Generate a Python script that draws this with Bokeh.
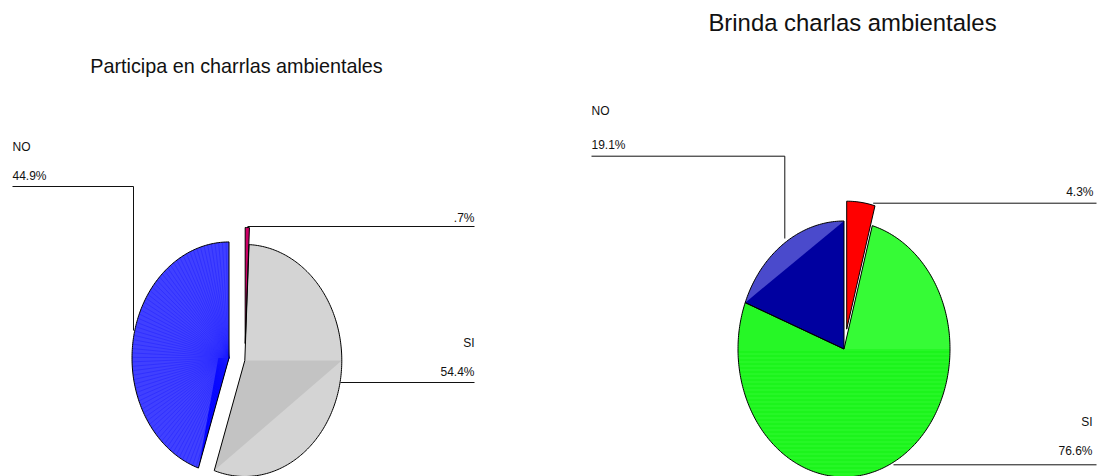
import numpy as np
from bokeh.plotting import figure
from bokeh.models import Range1d, ColumnDataSource
from bokeh.core.properties import value
from bokeh.embed import file_html
from bokeh.resources import INLINE

# ---------------- data ----------------
left_title = "Participa en charrlas ambientales"
left_categories = ["", "SI", "NO"]
left_values = [0.7, 54.4, 44.9]
left_pct_labels = [".7%", "54.4%", "44.9%"]

right_title = "Brinda charlas ambientales"
right_categories = ["", "SI", "NO"]
right_values = [4.3, 76.6, 19.1]
right_pct_labels = ["4.3%", "76.6%", "19.1%"]

# ---------------- style / layout ----------------
left_colors = ["#cc0066", "#d4d4d4", "#4040ff"]
right_colors = ["#ff0000", "#26f726", "#4a4acc"]
left_geom = dict(cx=244.3, cy=360.0, rx=97.0, ry=116.0, explode=[17, 0, 16])
right_geom = dict(cx=843.5, cy=348.5, rx=106.0, ry=128.0, explode=[20, 0, 0])

TITLE_FONT = "'Liberation Sans', Arial, sans-serif"
LABEL_FONT = "'Liberation Sans', Arial, sans-serif"

W, H = 1099, 476
p = figure(width=W, height=H, output_backend="svg", toolbar_location=None,
           x_range=Range1d(0, W), y_range=Range1d(H, 0),
           min_border=0, tools="")
p.axis.visible = False
p.grid.visible = False
p.outline_line_color = None
p.background_fill_color = "white"
p.border_fill_color = "white"


def pt(g, ox, oy, ang):
    t = np.radians(ang)
    return ox + g["rx"] * np.sin(t), oy - g["ry"] * np.cos(t)


def build_slices(values, g):
    cum = np.concatenate([[0.0], np.cumsum(values)]) / 100.0 * 360.0
    out = []
    for i in range(len(values)):
        a0, a1 = cum[i], cum[i + 1]
        mid = np.radians((a0 + a1) / 2)
        ox = g["cx"] + g["explode"][i] * np.sin(mid)
        oy = g["cy"] - g["explode"][i] * np.cos(mid)
        n = max(4, int((a1 - a0) / 1.0))
        th = np.linspace(a0, a1, n)
        xs, ys = pt(g, ox, oy, th)
        out.append(dict(a0=a0, a1=a1, ox=ox, oy=oy,
                        xs=[ox] + list(xs) + [ox], ys=[oy] + list(ys) + [oy]))
    return out


def sub_wedge(g, s, a0, a1):
    th = np.linspace(a0, a1, max(4, int(a1 - a0)))
    xs, ys = pt(g, s["ox"], s["oy"], th)
    return [s["ox"]] + list(xs), [s["oy"]] + list(ys)


def triangle(g, s, a0, a1):
    x0, y0 = pt(g, s["ox"], s["oy"], a0)
    x1, y1 = pt(g, s["ox"], s["oy"], a1)
    return [s["ox"], x0, x1], [s["oy"], y0, y1]


L = build_slices(left_values, left_geom)
R = build_slices(right_values, right_geom)

# base fills
for sl, col in zip(L + R, left_colors + right_colors):
    p.patch(sl["xs"], sl["ys"], fill_color=col, line_color=None)

# shading overlays (imitating the SPSS fill rendering)
ov_x, ov_y, ov_c = [], [], []
x, y = triangle(left_geom, L[1], 90.0, L[1]["a1"])
ov_x.append(x); ov_y.append(y); ov_c.append("#c3c3c3")
s = L[2]
bx, by = pt(left_geom, s["ox"], s["oy"], s["a0"])
ix = s["ox"] - 0.11 * left_geom["rx"]
ov_x.append([s["ox"], bx, ix]); ov_y.append([s["oy"], by, s["oy"]]); ov_c.append("#0000ff")
x, y = sub_wedge(right_geom, R[1], R[1]["a0"], 90.0)
ov_x.append(x); ov_y.append(y); ov_c.append("#36fb36")
x, y = triangle(right_geom, R[2], R[2]["a0"], R[2]["a1"])
ov_x.append(x); ov_y.append(y); ov_c.append("#0000a0")
p.patches(ov_x, ov_y, fill_color=ov_c, line_color=None)

# radial stripes in left blue
s = L[2]
angs = np.arange(s["a0"] + 1.5, s["a1"], 2.2)
sx, sy = pt(left_geom, s["ox"], s["oy"], angs)
p.multi_line([[s["ox"], a] for a in sx], [[s["oy"], b] for b in sy],
             line_color="#1a1aff", line_width=0.7, line_alpha=0.6)

# horizontal stripes in lower green
s = R[1]
yy = np.arange(s["oy"] + 3, s["oy"] + right_geom["ry"], 4.0)
half = right_geom["rx"] * np.sqrt(np.clip(1 - ((yy - s["oy"]) / right_geom["ry"]) ** 2, 0, 1))
p.multi_line([[s["ox"] - h + 1, s["ox"] + h - 1] for h in half], [[v, v] for v in yy],
             line_color="#00ee00", line_width=1, line_alpha=0.5)

# outlines
for sl in L + R:
    p.patch(sl["xs"], sl["ys"], fill_alpha=0, line_color="black", line_width=1)

# leader lines
leaders_x = [[12, 133, 133], [247, 474], [340, 474],
             [591, 784.3, 784.3], [872.7, 1096], [893, 1096]]
leaders_y = [[186, 186, 330], [226, 226], [382, 382],
             [155.7, 155.7, 238], [202.7, 202.7], [464.3, 464.3]]
p.multi_line(leaders_x, leaders_y, line_color="#111111", line_width=1)

# labels (left-aligned)
src_l = ColumnDataSource(dict(
    x=[12, 12, 591, 591],
    y=[146, 175, 110, 144.3],
    t=[left_categories[2], left_pct_labels[2], right_categories[2], right_pct_labels[2]]))
p.text("x", "y", text="t", source=src_l, text_font=value(LABEL_FONT),
       text_font_size="12px", text_align="left", text_baseline="middle",
       text_color="#111111")
# labels (right-aligned)
src_r = ColumnDataSource(dict(
    x=[474, 474, 474, 1093, 1092, 1092],
    y=[217, 342, 371, 191.7, 421.7, 450.7],
    t=[left_pct_labels[0], left_categories[1], left_pct_labels[1],
       right_pct_labels[0], right_categories[1], right_pct_labels[1]]))
p.text("x", "y", text="t", source=src_r, text_font=value(LABEL_FONT),
       text_font_size="12px", text_align="right", text_baseline="middle",
       text_color="#111111")

# titles
p.text([236], [65], text=[left_title], text_font=value(TITLE_FONT),
       text_font_size="19.8px", text_align="center", text_baseline="middle",
       text_color="#111111")
p.text([852], [21.7], text=[right_title], text_font=value(TITLE_FONT),
       text_font_size="23.9px", text_align="center", text_baseline="middle",
       text_color="#111111")

open("out.html", "w").write(file_html(p, INLINE))
